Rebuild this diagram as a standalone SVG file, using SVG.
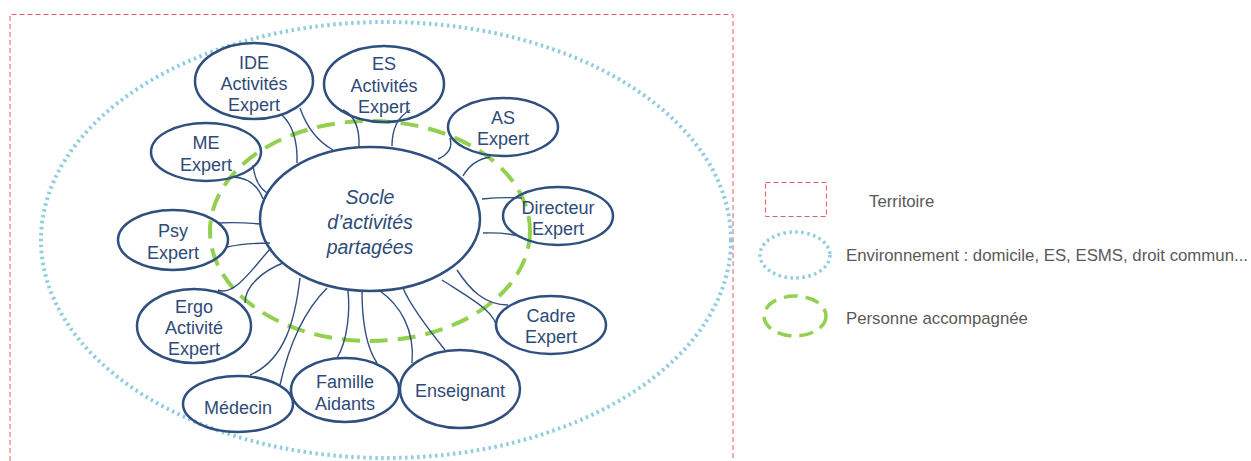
<svg xmlns="http://www.w3.org/2000/svg" width="1251" height="461" viewBox="0 0 1251 461">
<style>
.node{fill:none;stroke:#2F4F7F;stroke-width:2.5}
.t{font-family:"Liberation Sans",Arial,sans-serif;font-size:18px;fill:#2E4A78;text-anchor:middle}
.c{fill:none;stroke:#2F4F7F;stroke-width:1.4}
.lg{font-family:"Liberation Sans",Arial,sans-serif;font-size:16.8px;fill:#595959}
.terr{fill:none;stroke:#E06060;stroke-width:1;stroke-dasharray:5 3}
.env{fill:none;stroke:#92CDDF;stroke-width:4;stroke-dasharray:2.5 3.5}
.pers{fill:none;stroke:#92D050;stroke-width:4;stroke-dasharray:18 10}
</style>
<rect width="1251" height="461" fill="#fff"/>
<g id="territoire"><path class="terr" d="M10,461 V14.5 H733 V461"/></g>
<g id="environnement"><ellipse class="env" cx="386" cy="240" rx="345" ry="218"/></g>
<g id="personne"><ellipse class="pers" cx="370" cy="231" rx="160" ry="110"/></g>
<g id="connectors">
<path class="c" d="M282,115 Q298,130 297,163"/>
<path class="c" d="M300,108 Q310,137 333,150"/>
<path class="c" d="M343,110 Q360,118 359,146"/>
<path class="c" d="M410,110 Q392,120 392,146"/>
<path class="c" d="M450,138 Q454,152 438,159"/>
<path class="c" d="M490,157 Q472,160 463,176"/>
<path class="c" d="M253,165 Q255,185 267,193"/>
<path class="c" d="M233,177 Q255,178 263,199"/>
<path class="c" d="M482,199 Q502,197 522,198"/>
<path class="c" d="M483,233 Q505,232 522,237"/>
<path class="c" d="M217,223 Q240,222 260,224"/>
<path class="c" d="M227,247 Q245,243 270,243"/>
<path class="c" d="M218,290 C235,297 255,265 271,248"/>
<path class="c" d="M245,303 C245,285 265,270 283,263"/>
<path class="c" d="M250,375 C285,360 295,320 300,278"/>
<path class="c" d="M280,385 C290,340 305,310 327,288"/>
<path class="c" d="M337,358 C348,340 350,310 348,291"/>
<path class="c" d="M377,363 C365,345 362,320 362,291"/>
<path class="c" d="M412,363 C415,330 400,305 380,291"/>
<path class="c" d="M445,350 C425,325 410,305 403,288"/>
<path class="c" d="M442,280 C470,298 497,312 497,330"/>
<path class="c" d="M457,270 C470,290 485,305 508,305"/>
</g>
<g id="socle"><ellipse class="node" cx="370" cy="219" rx="110" ry="72"/>
<text class="t" style="font-size:19.5px;font-style:italic"><tspan x="370" y="204">Socle</tspan><tspan x="370" y="229">d’activités</tspan><tspan x="370" y="254">partagées</tspan></text></g>
<g id="ide"><ellipse class="node" cx="254" cy="81" rx="59" ry="38"/>
<text class="t"><tspan x="254" y="68.5">IDE</tspan><tspan x="254" y="89.5">Activités</tspan><tspan x="254" y="110.5">Expert</tspan></text></g>
<g id="es"><ellipse class="node" cx="384" cy="84" rx="60" ry="38"/>
<text class="t"><tspan x="384" y="69.5">ES</tspan><tspan x="384" y="91.5">Activités</tspan><tspan x="384" y="112.5">Expert</tspan></text></g>
<g id="as"><ellipse class="node" cx="503" cy="127" rx="55" ry="29"/>
<text class="t"><tspan x="503" y="123.5">AS</tspan><tspan x="503" y="144.5">Expert</tspan></text></g>
<g id="me"><ellipse class="node" cx="206" cy="152" rx="55" ry="29"/>
<text class="t"><tspan x="206" y="148.5">ME</tspan><tspan x="206" y="170.5">Expert</tspan></text></g>
<g id="directeur"><ellipse class="node" cx="558" cy="216" rx="55" ry="29"/>
<text class="t"><tspan x="558" y="213.5">Directeur</tspan><tspan x="558" y="234.5">Expert</tspan></text></g>
<g id="psy"><ellipse class="node" cx="173" cy="240" rx="55" ry="30"/>
<text class="t"><tspan x="173" y="236.5">Psy</tspan><tspan x="173" y="258.5">Expert</tspan></text></g>
<g id="ergo"><ellipse class="node" cx="194" cy="326" rx="57" ry="37"/>
<text class="t"><tspan x="194" y="312.5">Ergo</tspan><tspan x="194" y="333.5">Activité</tspan><tspan x="194" y="354.5">Expert</tspan></text></g>
<g id="cadre"><ellipse class="node" cx="551" cy="325" rx="55" ry="29"/>
<text class="t"><tspan x="551" y="321.5">Cadre</tspan><tspan x="551" y="342.5">Expert</tspan></text></g>
<g id="medecin"><ellipse class="node" cx="238" cy="404" rx="55" ry="28"/>
<text class="t"><tspan x="238" y="413.5">Médecin</tspan></text></g>
<g id="famille"><ellipse class="node" cx="345" cy="390" rx="54" ry="32"/>
<text class="t"><tspan x="345" y="387.5">Famille</tspan><tspan x="345" y="409.5">Aidants</tspan></text></g>
<g id="enseignant"><ellipse class="node" cx="460" cy="389" rx="60" ry="39"/>
<text class="t"><tspan x="460" y="396.5">Enseignant</tspan></text></g>
<g id="legend">
<rect class="terr" x="765.5" y="182.5" width="61" height="34"/>
<text class="lg" x="869" y="207">Territoire</text>
<ellipse class="env" cx="795" cy="255" rx="35" ry="23" style="stroke-width:3.5"/>
<text class="lg" x="846" y="261">Environnement : domicile, ES, ESMS, droit commun...</text>
<ellipse class="pers" cx="795" cy="316" rx="31" ry="20" style="stroke-width:3.5;stroke-dasharray:14 8"/>
<text class="lg" x="846" y="324">Personne accompagnée</text>
</g>
</svg>
